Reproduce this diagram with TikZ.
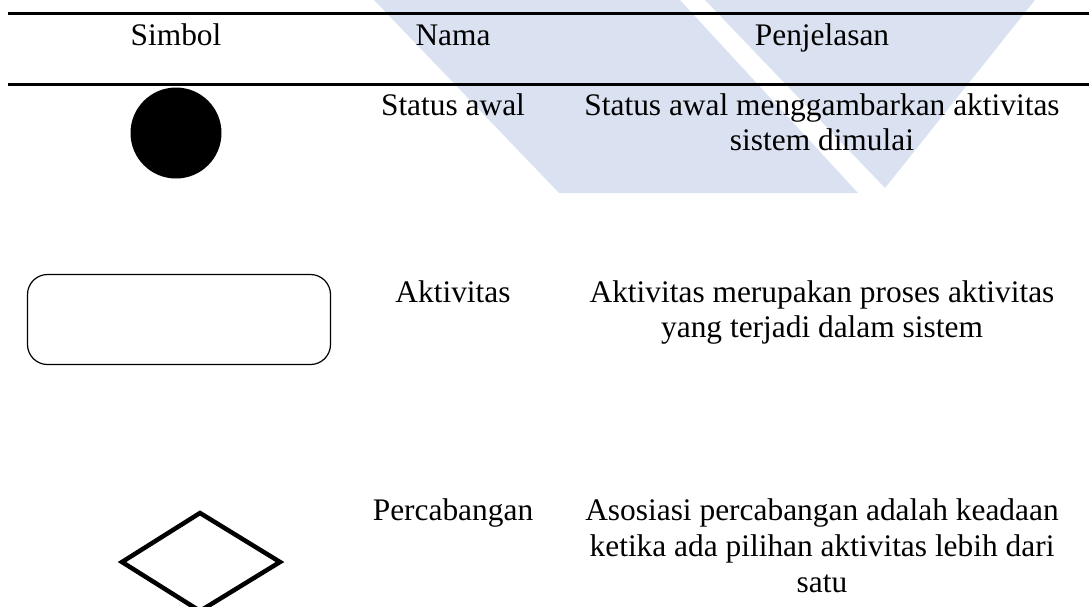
\documentclass[tikz,border=0pt]{standalone}
\usepackage{fontspec}
\setmainfont{Liberation Serif}
\definecolor{wmblue}{RGB}{218,226,242}
\begin{document}
\begin{tikzpicture}[x=1pt,y=-1pt,
  txt/.style={font=\fontsize{31.4}{35}\selectfont, inner sep=0pt, anchor=base, align=center},
  txtwide/.style={txt, font=\fontsize{31.4}{36}\selectfont},
  rulel/.style={line width=2.6pt},
  wm/.style={fill=wmblue, draw=none}]
\useasboundingbox (0,0) rectangle (1089,606);
% watermark
\fill[wm] (374,0) -- (680,0) -- (858,193) -- (559,193) -- cycle;
\fill[wm] (705,0) -- (1035,0) -- (885,188) -- cycle;
% table rules
\coordinate (r1a) at (8,13.5);
\coordinate (r1b) at (1089,13.5);
\coordinate (r2a) at (8,84.5);
\coordinate (r2b) at (1089,84.5);
\draw[rulel] (r1a) -- (r1b);
\draw[rulel] (r2a) -- (r2b);
% header
\node[txt] (h1) at (176,45) {Simbol};
\node[txt] (h2) at (453,45) {Nama};
\node[txt] (h3) at (822,45) {Penjelasan};
% row 1 (base anchor of a multi-line node is its last line)
\node[circle, fill=black, minimum size=91pt, inner sep=0pt] (s1) at (176,133) {};
\node[txt] (n1) at (453,115) {Status awal};
\node[txt] (d1) at (822,150) {Status awal menggambarkan aktivitas\\sistem dimulai};
% row 2
\node[draw, rounded corners=20pt, minimum width=303pt, minimum height=90pt, line width=1.2pt, inner sep=0pt] (s2) at (179,319.5) {};
\node[txt] (n2) at (453,302) {Aktivitas};
\node[txt] (d2) at (822,337) {Aktivitas merupakan proses aktivitas\\yang terjadi dalam sistem};
% row 3
\draw[line width=4.5pt, miter limit=10] (122,562) -- (200,513) -- (280,562) -- (200,611) -- cycle;
\node[txt] (n3) at (453,520) {Percabangan};
\node[txtwide] (d3) at (822,592) {Asosiasi percabangan adalah keadaan\\ketika ada pilihan aktivitas lebih dari\\satu};
\end{tikzpicture}
\end{document}
